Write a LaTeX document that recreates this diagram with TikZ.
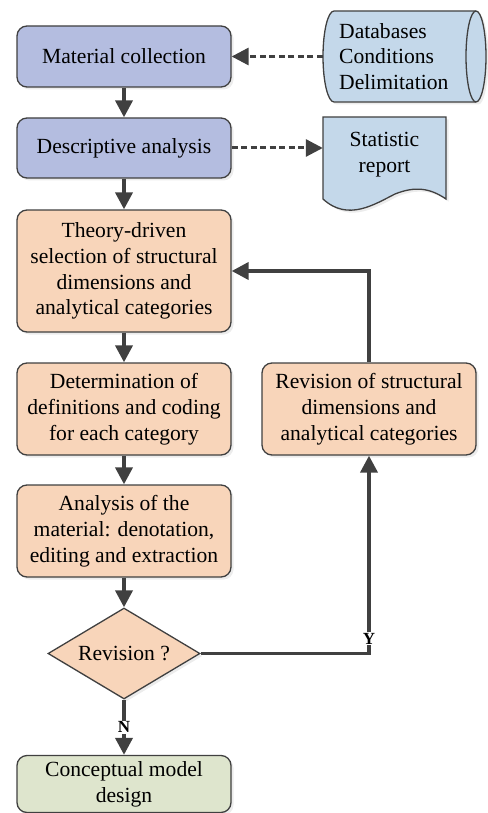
\documentclass[tikz,border=0pt]{standalone}
\usepackage{fontspec}
\setmainfont{Liberation Serif}
\usetikzlibrary{arrows.meta,shapes.geometric,shadows}
\definecolor{cblue}{RGB}{180,189,224}
\definecolor{corange}{RGB}{248,213,186}
\definecolor{cgreen}{RGB}{222,229,205}
\definecolor{clblue}{RGB}{196,216,234}
\definecolor{edgec}{RGB}{64,64,64}
\definecolor{arrc}{RGB}{64,64,64}
\begin{document}
\begin{tikzpicture}[x=1pt,y=-1pt,
  font=\fontsize{21.6}{25.8}\selectfont,
  shad/.style={drop shadow={shadow xshift=2.5pt,shadow yshift=-2.5pt,fill=black!15}},
  box/.style={draw=edgec, line width=1.3pt, rounded corners=10pt, minimum width=214pt, align=center, inner sep=2pt, shad},
  arr/.style={draw=arrc, line width=3.8pt, -{Triangle[length=17pt,width=17pt]}},
  darr/.style={arr, line width=3pt, dash pattern=on 6pt off 3.5pt},
  lbl/.style={fill=white, font=\bfseries\fontsize{17}{20}\selectfont, inner sep=1pt}]
\useasboundingbox (0,0) rectangle (487,813);

% database cylinder
\path[fill=clblue, draw=edgec, line width=1.3pt, shad]
  (334,11) -- (476,11) .. controls (481.5,11) and (486,31.4) .. (486,56.5)
  .. controls (486,81.6) and (481.5,102) .. (476,102) -- (334,102)
  .. controls (327.9,102) and (323,81.6) .. (323,56.5)
  .. controls (323,31.4) and (327.9,11) .. (334,11) -- cycle;
\draw[edgec, line width=1.3pt] (476,11) .. controls (470.5,11) and (466,31.4) .. (466,56.5)
  .. controls (466,81.6) and (470.5,102) .. (476,102);
\node[minimum width=163pt, minimum height=91pt, inner sep=0pt] (db) at (404.5,56.5) {};
\node[anchor=west, align=left, inner sep=0pt] (dbt) at (339,56.5) {Databases\\Conditions\\Delimitation};

% statistic report document
\path[fill=clblue, draw=edgec, line width=1.3pt, shad]
  (323,117) -- (446,117) -- (446,199)
  .. controls (430,188) and (415,186) .. (395,194)
  .. controls (375,204) and (348,222) .. (323,199) -- cycle;
\node[align=center, minimum width=123pt, inner sep=0pt] (st) at (384.5,154.5) {Statistic\\report};

% main flow
\node[box, fill=cblue, minimum height=61pt] (mc) at (124,56.5) {Material collection};
\node[box, fill=cblue, minimum height=60pt] (da) at (124,148) {Descriptive analysis};
\node[box, fill=corange, minimum height=122pt] (td) at (124,271) {Theory-driven\\selection of structural\\dimensions and\\analytical categories};
\node[box, fill=corange, minimum height=92pt] (dd) at (124,409) {Determination of\\definitions and coding\\for each category};
\node[box, fill=corange, minimum height=92pt] (am) at (124,531) {Analysis of the\\material: denotation,\\editing and extraction};
\node[diamond, draw=edgec, line width=1.3pt, fill=corange, minimum width=152pt, minimum height=91pt, inner sep=0pt, shape aspect=1.67, shad] (dm) at (124,653.5) {Revision ?};
\node[box, fill=cgreen, minimum height=57pt] (cm) at (124,784) {Conceptual model\\design};
\node[box, fill=corange, minimum height=92pt] (rv) at (369,409) {Revision of structural\\dimensions and\\analytical categories};

% connectors
\draw[darr] (db.west) -- (mc.east);
\draw[darr] (da.east) -- (da.east -| st.west);
\draw[arr] (mc.south) -- (da.north);
\draw[arr] (da.south) -- (td.north);
\draw[arr] (td.south) -- (dd.north);
\draw[arr] (dd.south) -- (am.north);
\draw[arr] (am.south) -- (dm.north);
\draw[arr] (dm.south) -- node[lbl] {N} (cm.north);
\draw[arr] (dm.east) -- (rv.south |- dm.east) -- node[lbl, pos=0.075] {Y} (rv.south);
\draw[arr] (rv.north) |- (td.east);
\end{tikzpicture}
\end{document}
